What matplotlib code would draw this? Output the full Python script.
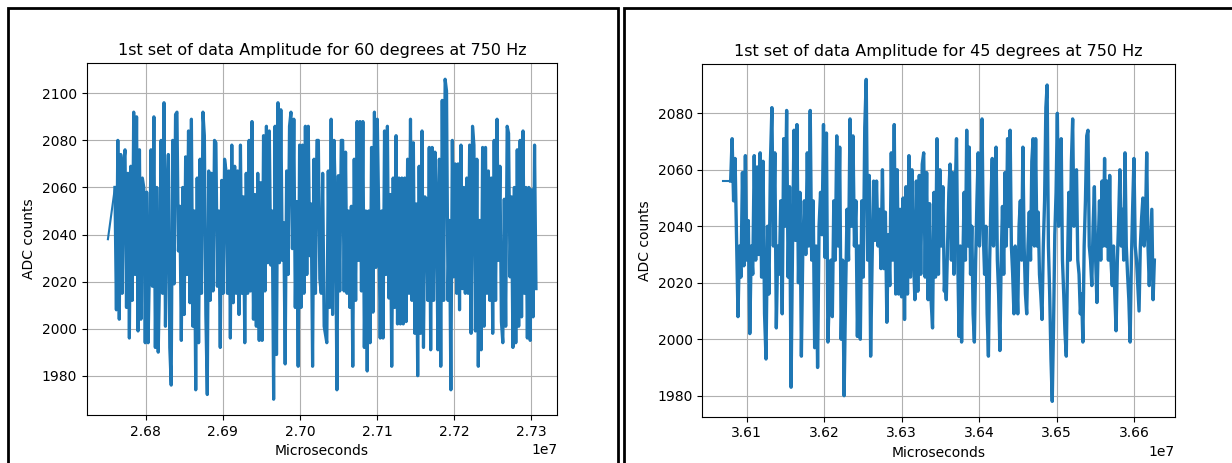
import numpy as np
import matplotlib
matplotlib.use("Agg")
import matplotlib.pyplot as plt
from matplotlib.patches import Rectangle

titles = ["1st set of data Amplitude for 60 degrees at 750 Hz",
          "1st set of data Amplitude for 45 degrees at 750 Hz"]
x_label = "Microseconds"
y_label = "ADC counts"

# ---- left chart (60 degrees): lead-in sample + two stretches of read-off extremes
left_lead_t = [26750900]
left_lead_v = [2038]
left_span_a = (26760007, 27031492)
left_vals_a = [2060, 2008, 2080, 2004, 2074, 2015, 2070, 2076, 2009, 2066, 1996, 2069, 2012, 2092, 2023,
               2090, 1999, 2076, 2004, 2064, 2060, 1994, 2058, 1994, 2029, 2076, 2018, 2090, 1992, 2060,
               1990, 2023, 2080, 2015, 2096, 2001, 2057, 2074, 1992, 1976, 2080, 2019, 2091, 2092, 2033,
               2052, 1995, 2060, 2006, 2073, 2023, 2084, 2011, 2089, 2001, 2050, 1974, 2064, 1994, 2072,
               2015, 2092, 2082, 2006, 1972, 2067, 2012, 2066, 2016, 2080, 2079, 2018, 2050, 1992, 2063,
               2015, 2072, 2067, 2015, 2067, 1996, 2078, 2011, 2069, 2015, 2067, 2006, 2078, 2015, 2056,
               1994, 2066, 2015, 2080, 2016, 2088, 2004, 2057, 2001, 2066, 1995, 2062, 1995, 2082, 2016,
               2086, 2028, 2084, 2027, 2050, 1970, 2086, 1989, 2096, 2028, 2093, 2029, 2045, 1985, 2067,
               2023, 2086, 2092, 2034, 2089, 2009, 2054, 1984, 2078, 2009, 2078, 2015, 2086, 2023, 2086,
               2031, 2053, 1984, 2072, 2015, 2080, 2080, 2021, 2015, 2066, 2001]
left_span_b = (27034974, 27306458)
left_vals_b = [1994, 2067, 2009, 2089, 2006, 2080, 2052, 1974, 2065, 2016, 2080, 2080, 2016, 2075, 2015,
               2050, 2009, 2052, 1984, 2072, 2012, 2088, 2029, 2088, 2016, 2088, 1992, 2050, 1982, 2050,
               1994, 2077, 2007, 2092, 2026, 2089, 2049, 1996, 2050, 1996, 2084, 2023, 2086, 2013, 2057,
               1984, 2064, 2009, 2082, 2002, 2064, 2002, 2064, 2002, 2064, 2003, 2072, 2015, 2089, 2012,
               2079, 1998, 2053, 1980, 2069, 1998, 2084, 1992, 2056, 2055, 2012, 2077, 1991, 2077, 2012,
               2075, 2053, 1991, 2072, 1984, 2097, 2012, 2106, 2101, 2012, 2046, 1974, 2080, 2022, 2070,
               2015, 2070, 2008, 2078, 2017, 2060, 2015, 2064, 2015, 2078, 1998, 2086, 2078, 1999, 2072,
               1984, 2046, 1991, 2077, 2001, 2077, 2015, 2067, 2012, 2064, 1998, 2080, 2012, 2089, 2029,
               2069, 2003, 1994, 2055, 2001, 2086, 2083, 2022, 2056, 1992, 2060, 1994, 2076, 2001, 2080,
               2005, 2084, 2015, 2060, 1996, 2060, 1995, 2059, 2005, 2078, 2017]

# ---- right chart (45 degrees)
right_lead_t = [36070000, 36079000]
right_lead_v = [2056, 2056]
right_span_a = (36079320, 36354950)
right_vals_a = [2056, 2071, 2049, 2064, 2035, 2008, 2033, 2022, 2059, 2026, 2065, 2028, 2042, 2002, 2033,
                2023, 2065, 2028, 2061, 2030, 2066, 2022, 2063, 2009, 1993, 2040, 2016, 2063, 2082, 2033,
                2066, 2004, 2033, 2023, 2049, 2009, 2071, 2040, 2081, 2022, 2054, 1983, 2033, 2074, 2035,
                2076, 2020, 2052, 1994, 2033, 2049, 2030, 2066, 2033, 2081, 2028, 2049, 1997, 2033, 1990,
                2040, 2052, 2037, 2076, 2029, 2073, 1999, 2016, 2028, 2008, 2049, 2028, 2072, 2033, 2068,
                2000, 2028, 1980, 2016, 2046, 2028, 2078, 2040, 2072, 2033, 2049, 2001, 2033, 2000, 2049,
                2022, 2075, 2092, 2028, 2058, 1994, 2028, 2056, 2035, 2056, 2033, 2046, 2025, 2060, 2025,
                2045, 2006, 2037, 2019, 2066, 2028, 2076, 2016, 2060, 2016, 2046, 2015, 2050, 2007, 2054,
                2016, 2065, 2022, 2060, 2030, 2014, 2056, 2017, 2058, 2023, 2062, 2066, 2022, 2059, 2014,
                2048, 2014, 2004, 2052, 2022, 2071, 2023, 2060, 2033, 2054, 2017]
right_span_b = (36355810, 36625850)
right_vals_b = [2022, 2014, 2033, 2052, 2062, 2028, 2059, 2023, 2052, 2071, 2028, 2001, 2033, 1999, 2028,
                2052, 2028, 2074, 2033, 2068, 2023, 2040, 2009, 1999, 2028, 2049, 2066, 2033, 2052, 2078,
                2037, 2023, 2040, 2009, 1994, 2028, 2049, 2064, 2033, 2052, 2068, 2028, 2016, 1996, 2028,
                2047, 2023, 2059, 2033, 2071, 2040, 2074, 2033, 2023, 2009, 2033, 2023, 2009, 2040, 2049,
                2028, 2068, 2033, 2016, 2009, 2033, 2045, 2028, 2063, 2071, 2033, 2071, 2033, 2045, 2023,
                2016, 2007, 2033, 2049, 2082, 2090, 2033, 2016, 1993, 1978, 2004, 2037, 2052, 2080, 2040,
                2052, 2071, 2028, 2016, 2002, 1994, 2028, 2052, 2028, 2063, 2078, 2040, 2054, 2060, 2028,
                2023, 2009, 2016, 1999, 2033, 2049, 2072, 2074, 2033, 2028, 2019, 2040, 2054, 2028, 2013,
                2033, 2049, 2028, 2056, 2033, 2064, 2033, 2056, 2028, 2058, 2028, 2019, 2033, 2016, 2003,
                2028, 2042, 2060, 2033, 2046, 2028, 2066, 2033, 2023, 2014, 1999, 2028, 2047, 2064, 2033,
                2028, 2019, 2010, 2033, 2043, 2050, 2033, 2040, 2066, 2033, 2019, 2033, 2046, 2014, 2028]

line_color = "#1f77b4"


def build(lead_t, lead_v, spans, vals):
    t = list(lead_t)
    v = list(lead_v)
    for (t0, t1), vv in zip(spans, vals):
        t.extend(np.linspace(t0, t1, len(vv)))
        v.extend(vv)
    return np.array(t, dtype=float), np.array(v, dtype=float)


lt, lv = build(left_lead_t, left_lead_v, [left_span_a, left_span_b], [left_vals_a, left_vals_b])
rt, rv = build(right_lead_t, right_lead_v, [right_span_a, right_span_b], [right_vals_a, right_vals_b])

W, H = 1232, 463
fig = plt.figure(figsize=(W / 100, H / 100), dpi=100)

# panel frames
fig.patches.append(Rectangle((8 / W, -0.05), (618 - 8) / W, 1.05 - 8 / H, transform=fig.transFigure,
                             fill=False, edgecolor="black", linewidth=2))
fig.patches.append(Rectangle((624 / W, -0.05), (1240 - 624) / W, 1.05 - 8 / H, transform=fig.transFigure,
                             fill=False, edgecolor="black", linewidth=2))

ax1 = fig.add_axes([86.5 / W, (H - 415) / H, (557.3 - 86.5) / W, (415 - 63.3) / H])
ax2 = fig.add_axes([702.4 / W, (H - 416.7) / H, (1174.8 - 702.4) / W, (416.7 - 64) / H])

for ax, t, v, n_lead, title, lw in [(ax1, lt, lv, len(left_lead_t), titles[0], 2.3),
                                     (ax2, rt, rv, len(right_lead_t), titles[1], 2.4)]:
    # sparse lead-in drawn with the plain line width, dense record thicker
    ax.plot(t[:n_lead + 1], v[:n_lead + 1], color=line_color, linewidth=1.5)
    ax.plot(t[n_lead:], v[n_lead:], color=line_color, linewidth=lw)
    ax.grid(True)
    ax.set_title(title, fontsize=11.5)
    ax.set_xlabel(x_label)
    ax.set_ylabel(y_label)

ax1.set_xlim(2.67231e7, 2.73341e7)
ax1.set_ylim(1963.3, 2112.75)
ax2.set_xlim(3.60429e7, 3.66522e7)
ax2.set_ylim(1972.57, 2097.45)

fig.savefig("out.png", dpi=100)
